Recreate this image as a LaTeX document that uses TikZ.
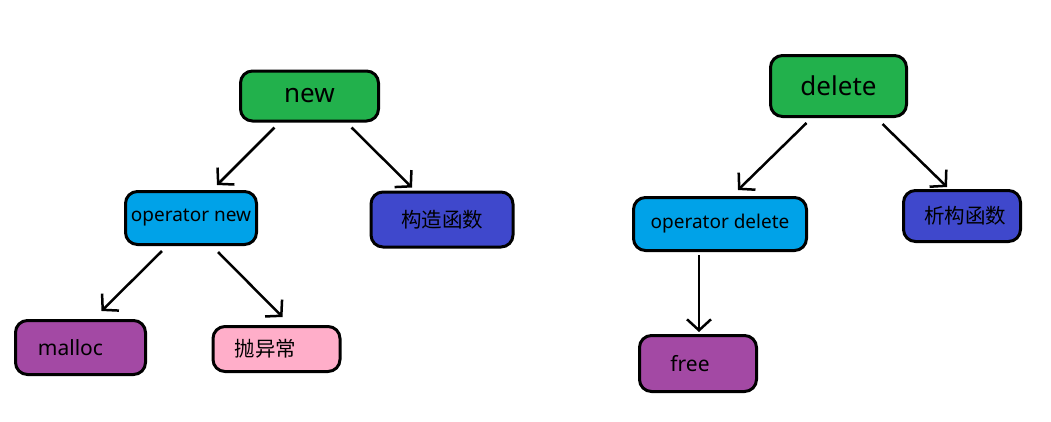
\documentclass[tikz,border=0pt]{standalone}
\usepackage{fontspec}
\setmainfont{Noto Sans}
\newfontfamily\cjk{Noto Sans CJK SC}
\usepackage{tikz}
\usetikzlibrary{arrows.meta}
\definecolor{pgreen}{HTML}{22B14C}
\definecolor{pblue}{HTML}{00A2E8}
\definecolor{pindigo}{HTML}{3F48CC}
\definecolor{ppurple}{HTML}{A349A4}
\definecolor{ppink}{HTML}{FFAEC9}
\begin{document}
\begin{tikzpicture}[x=1pt,y=-1pt,
  box/.style={draw=black, line width=3pt, rounded corners=12pt, inner sep=0pt},
  top/.style={box, fill=pgreen, font=\fontsize{26}{30}\selectfont},
  op/.style={box, fill=pblue, font=\fontsize{19}{22}\selectfont},
  fun/.style={box, font=\fontsize{21}{24}\selectfont},
  zh/.style={box, font=\cjk\fontsize{20.5}{24}\selectfont},
  arr/.style={line width=2.5pt, -{Straight Barb[length=11pt,width=24pt]}}]
\useasboundingbox (0,0) rectangle (1051,421);
\path[fill=white] (0,0) rectangle (1051,421);

\node[top, minimum width=138pt, minimum height=50pt] (new) at (309.5,96) {new};
\node[op, minimum width=131pt, minimum height=53pt] (opnew) at (191,218) {operator new};
\node[zh, fill=pindigo, minimum width=142pt, minimum height=55pt] (ctor) at (442,219.5) {构造函数};
\node[fun, fill=ppurple, minimum width=130pt, minimum height=54pt] (malloc) at (80.5,347.5) {malloc\hspace*{20pt}};
\node[zh, fill=ppink, minimum width=127pt, minimum height=45pt] (throw) at (276.5,349) {抛异常\hspace*{22pt}};

\node[top, minimum width=136pt, minimum height=61pt] (delete) at (838.5,86) {delete};
\node[op, minimum width=173pt, minimum height=53pt] (opdel) at (720,224) {operator delete};
\node[zh, fill=pindigo, minimum width=117pt, minimum height=51pt] (dtor) at (962,216) {\hspace*{6pt}析构函数};
\node[fun, fill=ppurple, minimum width=117pt, minimum height=56pt] (free) at (698,363.5) {free\hspace*{16pt}};

\draw[arr] ([xshift=-35pt,yshift=-5pt]new.south) -- ([xshift=26pt,yshift=5pt]opnew.north);
\draw[arr] ([xshift=42pt,yshift=-5pt]new.south) -- ([xshift=-30pt,yshift=3pt]ctor.north);
\draw[arr] ([xshift=-29pt,yshift=-5pt]opnew.south) -- ([xshift=21pt,yshift=8pt]malloc.north);
\draw[arr] ([xshift=27pt,yshift=-6pt]opnew.south) -- ([xshift=6pt,yshift=8pt]throw.north);
\draw[arr] ([xshift=-32pt,yshift=-5pt]delete.south) -- ([xshift=18pt,yshift=6pt]opdel.north);
\draw[arr] ([xshift=44pt,yshift=-6pt]delete.south) -- ([xshift=-15pt,yshift=2pt]dtor.north);
\draw[arr] ([xshift=-21pt,yshift=-3pt]opdel.south) -- ([xshift=1pt,yshift=2pt]free.north);
\end{tikzpicture}
\end{document}
